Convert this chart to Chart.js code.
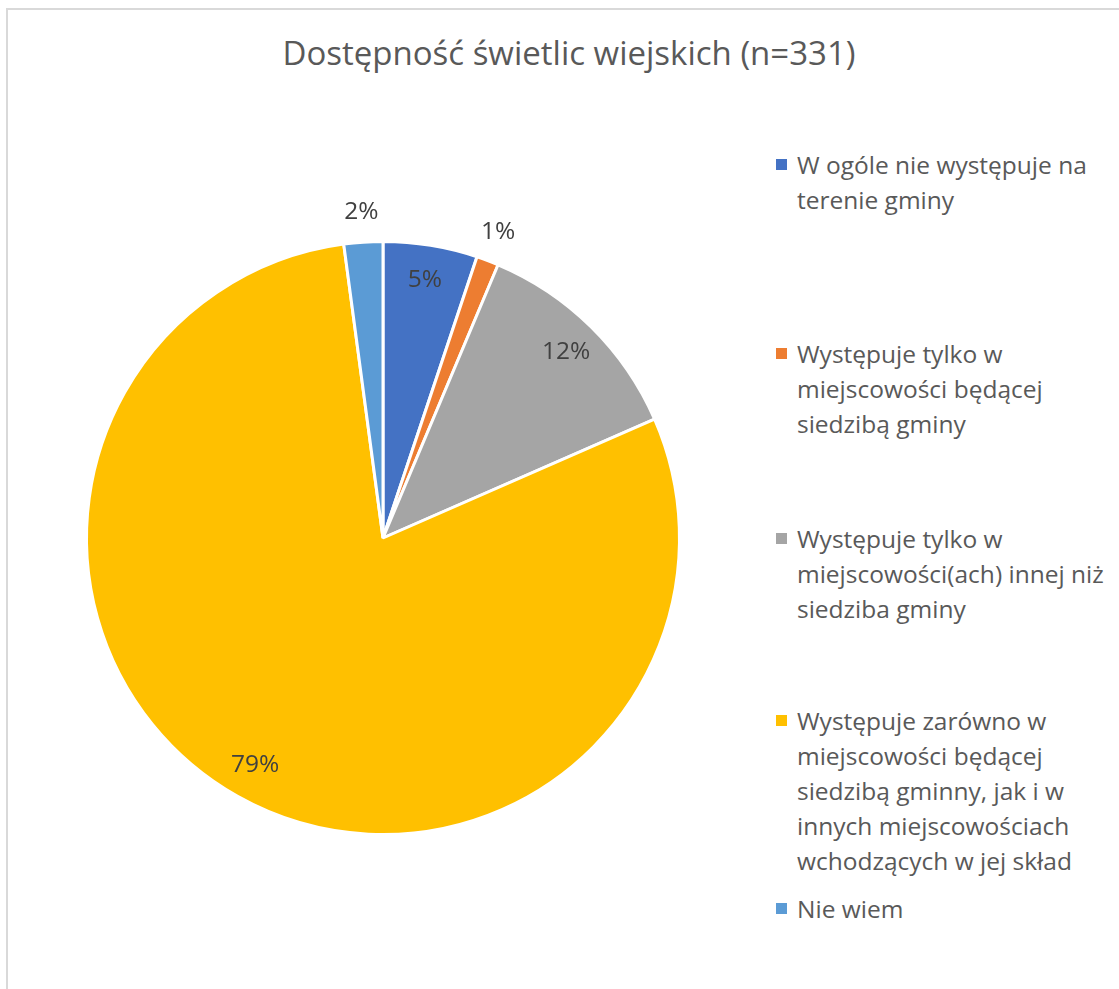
<!DOCTYPE html>
<html><head><meta charset="utf-8">
<script src="https://cdn.jsdelivr.net/npm/chart.js@4.4.0/dist/chart.umd.min.js"></script>
<style>
html,body{margin:0;padding:0;background:#fff;width:1119px;height:989px;overflow:hidden;font-family:"Open Sans",sans-serif;}
#frame{position:absolute;left:6px;top:8px;width:1200px;height:1100px;border-left:2px solid #d9d9d9;border-top:2px solid #d9d9d9;}
#title{position:absolute;left:0;width:1138px;top:33px;text-align:center;font-size:33px;color:#595959;line-height:40px;}
#wrap{position:absolute;left:33px;top:188px;width:700px;height:700px;}
.item{position:absolute;left:776px;font-size:24.5px;line-height:35px;color:#595959;white-space:pre-line;}
.item .mk{position:absolute;left:0;top:12px;width:11px;height:11px;}
.item .tx{position:absolute;left:21px;top:0;width:340px;}
</style></head>
<body>
<div id="frame"></div>
<div id="title">Dostępność świetlic wiejskich (n=331)</div>
<div id="wrap"><canvas id="c" width="700" height="700"></canvas></div>
<div id="legend"></div>
<script>
const categories = [
  "W ogóle nie występuje na\nterenie gminy",
  "Występuje tylko w\nmiejscowości będącej\nsiedzibą gminy",
  "Występuje tylko w\nmiejscowości(ach) innej niż\nsiedziba gminy",
  "Występuje zarówno w\nmiejscowości będącej\nsiedzibą gminny, jak i w\ninnych miejscowościach\nwchodzących w jej skład",
  "Nie wiem"
];
const counts = [17, 4, 40, 263, 7];
const percentLabels = ["5%", "1%", "12%", "79%", "2%"];
const colors = ["#4472C4", "#ED7D31", "#A5A5A5", "#FFC000", "#5B9BD5"];
const legendTops = [147, 336, 521, 703, 891];

const lg = document.getElementById('legend');
categories.forEach((c, i) => {
  const d = document.createElement('div');
  d.className = 'item';
  d.style.top = legendTops[i] + 'px';
  d.innerHTML = '<div class="mk" style="background:' + colors[i] + '"></div><div class="tx"></div>';
  d.querySelector('.tx').textContent = c;
  lg.appendChild(d);
});

const labelPlugin = {
  id: 'pctLabels',
  afterDatasetsDraw(chart) {
    const ctx = chart.ctx;
    const meta = chart.getDatasetMeta(0);
    ctx.save();
    ctx.font = '24.5px "Open Sans", sans-serif';
    ctx.fillStyle = '#404040';
    ctx.textAlign = 'center';
    ctx.textBaseline = 'middle';
    meta.data.forEach((arc, i) => {
      const p = arc.getProps(['x','y','startAngle','endAngle','outerRadius'], true);
      const mid = (p.startAngle + p.endAngle) / 2;
      const span = p.endAngle - p.startAngle;
      let r = span < 0.2 ? p.outerRadius + 30 : p.outerRadius * 0.88;
      ctx.fillText(percentLabels[i], p.x + Math.cos(mid) * r, p.y + Math.sin(mid) * r);
    });
    ctx.restore();
  }
};

new Chart(document.getElementById('c'), {
  type: 'pie',
  data: {
    labels: categories,
    datasets: [{ data: counts, backgroundColor: colors, borderColor: '#ffffff', borderWidth: 3 }]
  },
  options: {
    responsive: false,
    animation: false,
    layout: { padding: 52 },
    plugins: { legend: { display: false }, tooltip: { enabled: false } }
  },
  plugins: [labelPlugin]
});
</script>
</body></html>
